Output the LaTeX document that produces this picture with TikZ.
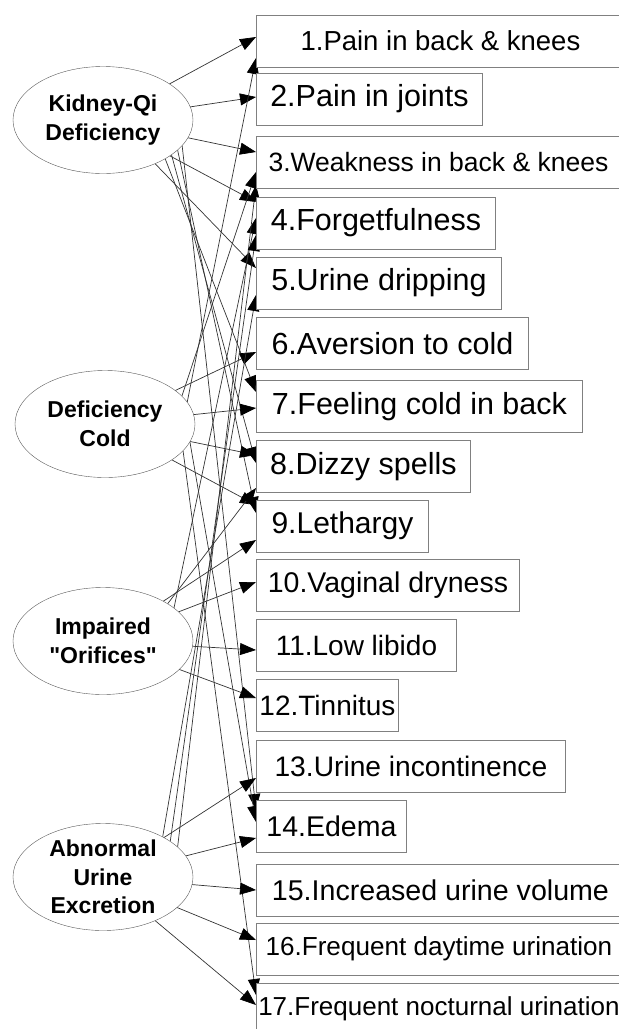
\documentclass[tikz,border=0pt]{standalone}
\usepackage{fontspec}
\setmainfont{Liberation Sans}
\newfontfamily\plainsans{Liberation Sans}
\usetikzlibrary{shapes.geometric, arrows.meta, backgrounds}

\begin{document}
\begin{tikzpicture}[x=1pt, y=-1pt]
        \tikzstyle{every node} = [font=\plainsans\fontsize{23}{28}\selectfont]
        \tikzstyle{latent}  = [draw=black!65, fill=white, ellipse, inner sep=0pt, minimum width=180pt, minimum height=107pt, align=center, font=\plainsans\fontsize{23}{28.5}\selectfont\bfseries]
        \tikzstyle{symptom} = [draw=black!50, fill=white, line width=0.9pt, anchor=west, minimum height=52pt, inner xsep=1pt]
        \tikzstyle{edge}    = [draw=black!80, line width=0.7pt, -{Triangle[length=16pt, width=12pt, color=black]}]

        \useasboundingbox (0,0) rectangle (619,1029);
        \clip (0,0) rectangle (619,1029);

        \def\lft{256}

        \node[latent] (kq) at (103,120) {Kidney-Qi\\Deficiency};
        \node[latent] (dc) at (105,424) {Deficiency\\Cold};
        \node[latent] (io) at (103,641) {Impaired\\"Orifices"};
        \node[latent] (ae) at (103,877) {Abnormal\\Urine\\Excretion};

        % centre y / box width / font size / text
        \foreach[count=\c] \y/\w/\fs/\t in {41/368/27.5/Pain in back \& knees, 99/226/30.5/Pain in joints,
            162.5/364/26.5/Weakness in back \& knees, 223/239/30.5/Forgetfulness, 283/245/30.5/Urine dripping,
            343.5/272/30.5/Aversion to cold, 406.5/326/30.5/Feeling cold in back, 466.5/214/30.5/Dizzy spells,
            526/172/30/Lethargy, 585/263/28.5/Vaginal dryness, 645.5/200/28/Low libido, 705.5/142/28/Tinnitus,
            766.5/309/28.2/Urine incontinence, 826.5/150/28.5/Edema, 890/368/28.6/Increased urine volume,
            949/365/26.1/Frequent daytime urination, 1009/365/26/Frequent nocturnal urination}
            \node[symptom, minimum width=\w pt, font=\plainsans\fontsize{\fs}{\fs}\selectfont] (s\c) at (\lft,\y) {\c.\t};

        \begin{pgfonlayer}{background}
            \foreach \f/\a/\s/\y in {kq/center/1/37, kq/center/2/97, kq/center/3/152, kq/center/4/202, kq/-40/5/268,
                kq/-32/7/392, kq/-27/8/463, kq/-22/9/513, kq/-18/14/810,
                dc/15/1/58, dc/20/3/172, dc/center/6/352, dc/center/7/408, dc/center/8/455, dc/center/9/505,
                dc/-12/14/822, dc/-19/17/995,
                io/25/4/218, io/30/8/488, io/center/9/540, io/center/10/582, io/center/11/650, io/center/12/698,
                ae/22/3/185, ae/28/4/235, ae/34/5/295, ae/center/13/778, ae/center/14/838, ae/center/15/890,
                ae/center/16/940, ae/center/17/1005}
                \draw[edge] (\f.\a) -- (s\s.west |- 0,\y);
        \end{pgfonlayer}
    \end{tikzpicture}
\end{document}
